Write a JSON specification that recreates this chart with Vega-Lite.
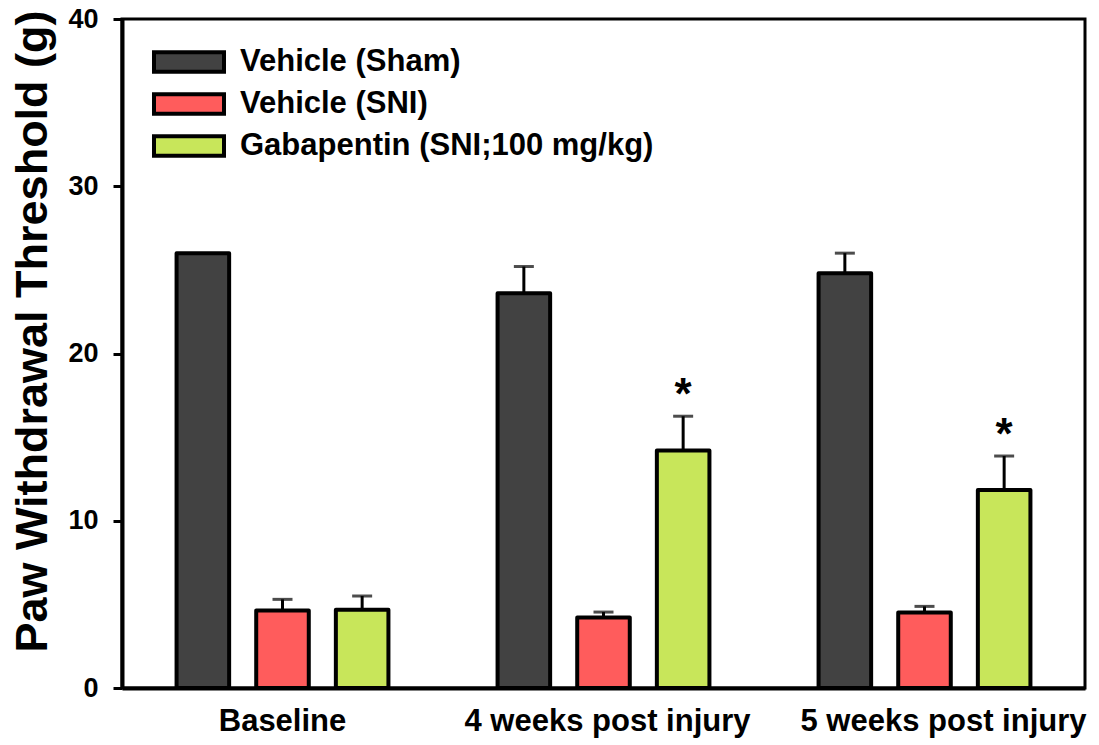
{
  "$schema": "https://vega.github.io/schema/vega-lite/v6.json",
  "width": 963,
  "height": 669,
  "autosize": "none",
  "padding": {"left": 122, "top": 19, "right": 14, "bottom": 57},
  "background": "white",
  "config": {
    "font": "Liberation Sans",
    "view": {"stroke": "black", "strokeWidth": 3}
  },
  "data": {
    "values": [
      {"group": "Baseline", "treatment": "Vehicle (Sham)", "mean": 26.0, "upper": null, "star": ""},
      {"group": "Baseline", "treatment": "Vehicle (SNI)", "mean": 4.63, "upper": 5.3, "star": ""},
      {"group": "Baseline", "treatment": "Gabapentin (SNI;100 mg/kg)", "mean": 4.68, "upper": 5.5, "star": ""},
      {"group": "4 weeks post injury", "treatment": "Vehicle (Sham)", "mean": 23.6, "upper": 25.2, "star": ""},
      {"group": "4 weeks post injury", "treatment": "Vehicle (SNI)", "mean": 4.22, "upper": 4.54, "star": ""},
      {"group": "4 weeks post injury", "treatment": "Gabapentin (SNI;100 mg/kg)", "mean": 14.2, "upper": 16.25, "star": "*"},
      {"group": "5 weeks post injury", "treatment": "Vehicle (Sham)", "mean": 24.8, "upper": 26.0, "star": ""},
      {"group": "5 weeks post injury", "treatment": "Vehicle (SNI)", "mean": 4.52, "upper": 4.88, "star": ""},
      {"group": "5 weeks post injury", "treatment": "Gabapentin (SNI;100 mg/kg)", "mean": 11.84, "upper": 13.87, "star": "*"}
    ]
  },
  "encoding": {
    "x": {
      "field": "group", "type": "nominal",
      "sort": ["Baseline", "4 weeks post injury", "5 weeks post injury"],
      "scale": {"paddingInner": 0.34, "paddingOuter": 0.17},
      "axis": {
        "title": null, "labelAngle": 0, "ticks": false,
        "domainColor": "black", "domainWidth": 4,
        "labelFontSize": 31, "labelFontWeight": "bold", "labelColor": "black",
        "labelPadding": 18, "labelLimit": 0,
        "labelOffset": {
          "condition": [
            {"test": "datum.value === '5 weeks post injury'", "value": 19},
            {"test": "datum.value === '4 weeks post injury'", "value": 4}
          ],
          "value": 0
        }
      }
    },
    "xOffset": {
      "field": "treatment", "type": "nominal",
      "sort": ["Vehicle (Sham)", "Vehicle (SNI)", "Gabapentin (SNI;100 mg/kg)"],
      "scale": {"paddingInner": 0.34, "paddingOuter": 0}
    }
  },
  "layer": [
    {
      "mark": {"type": "rule", "color": "black", "strokeWidth": 3},
      "encoding": {
        "y": {"field": "mean", "type": "quantitative"},
        "y2": {"field": "upper"}
      }
    },
    {
      "mark": {"type": "tick", "color": "black", "size": 20, "thickness": 3},
      "encoding": {
        "y": {"field": "upper", "type": "quantitative"}
      }
    },
    {
      "mark": {"type": "bar", "stroke": "black", "strokeWidth": 4, "strokeJoin": "round"},
      "encoding": {
        "y": {
          "field": "mean", "type": "quantitative",
          "scale": {"domain": [0, 40]},
          "axis": {
            "values": [0, 10, 20, 30, 40], "grid": false,
            "title": "Paw Withdrawal Threshold (g)",
            "titleFontSize": 45, "titleFontWeight": "bold", "titleColor": "black",
            "titlePadding": 12, "titleY": 312,
            "domainColor": "black", "domainWidth": 4,
            "tickColor": "black", "tickWidth": 3, "tickSize": 9,
            "labelFontSize": 27, "labelFontWeight": "bold", "labelColor": "black",
            "labelPadding": 15
          }
        },
        "color": {
          "field": "treatment", "type": "nominal",
          "sort": ["Vehicle (Sham)", "Vehicle (SNI)", "Gabapentin (SNI;100 mg/kg)"],
          "scale": {
            "domain": ["Vehicle (Sham)", "Vehicle (SNI)", "Gabapentin (SNI;100 mg/kg)"],
            "range": ["#424242", "#ff5c5c", "#c8e65a"]
          },
          "legend": {
            "title": null, "orient": "none", "legendX": 51, "legendY": 27,
            "padding": 0,
            "symbolType": "M-2.5,-0.7H2.5V0.7H-2.5Z",
            "symbolSize": 784,
            "symbolStrokeColor": "black", "symbolStrokeWidth": 4,
            "symbolOpacity": 1, "symbolFillOpacity": 1,
            "labelFontSize": 31, "labelFontWeight": "bold", "labelColor": "black",
            "labelOffset": 35, "rowPadding": 6, "labelLimit": 0
          }
        }
      }
    },
    {
      "mark": {"type": "text", "fontSize": 44, "fontWeight": "bold", "baseline": "middle", "dy": -20},
      "encoding": {
        "y": {"field": "upper", "type": "quantitative"},
        "text": {"field": "star"}
      }
    }
  ]
}
